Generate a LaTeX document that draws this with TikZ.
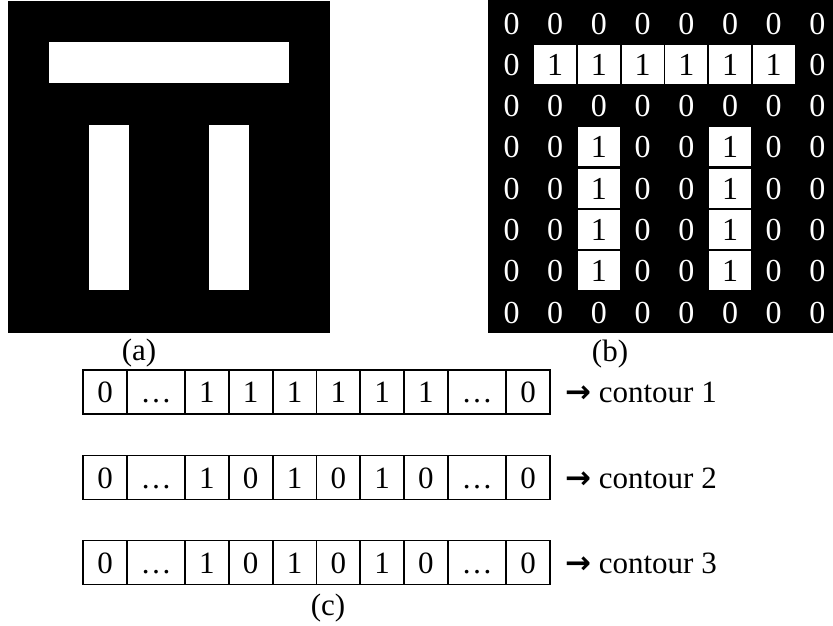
\documentclass[tikz,border=0pt]{standalone}
\usepackage{fontspec}
\setmainfont{Liberation Serif}
\newfontfamily\arrowfont{DejaVu Sans}
\usepackage{tikz}
\usetikzlibrary{positioning}
\newcommand{\gridfont}{\fontsize{32}{38}\selectfont}
\newcommand{\rowfont}{\fontsize{31}{37}\selectfont}
\tikzstyle{pix0} = [rectangle, minimum width=42pt, minimum height=39pt, inner sep=0pt, text height=22pt, text depth=0pt, text=white, font=\gridfont]
\tikzstyle{pix1} = [pix0, fill=white, text=black]
\tikzstyle{bitbox} = [rectangle, draw, line width=1.8pt, minimum height=44pt, inner sep=0pt, text height=21pt, text depth=0pt, font=\rowfont]
\tikzstyle{lbl} = [inner sep=0pt, font=\rowfont]

\begin{document}
\begin{tikzpicture}[x=1pt, y=-1pt]
    \useasboundingbox (0,0) rectangle (833,625);
    % (a) binary image
    \fill (8,1) rectangle (330,333);
    \fill[white] (49,42) rectangle (289,83);
    \fill[white] (89,125) rectangle (129,290);
    \fill[white] (209,125) rectangle (249,290);
    \node[lbl, anchor=base] (lab-a) at (139,360) {(a)};
    % (b) pixel values
    \fill (488,0) rectangle (833,333);
    \foreach \r/\row in {0/{0,0,0,0,0,0,0,0}, 1/{0,1,1,1,1,1,1,0}, 2/{0,0,0,0,0,0,0,0}, 3/{0,0,1,0,0,1,0,0},
                         4/{0,0,1,0,0,1,0,0}, 5/{0,0,1,0,0,1,0,0}, 6/{0,0,1,0,0,1,0,0}, 7/{0,0,0,0,0,0,0,0}} {
        \foreach \v [count=\c from 0] in \row {
            \node[pix\v] (g-\r-\c) at ({511.5 + \c*43.7},{23 + \r*41.3}) {\v};
        }
    }
    \node[lbl, anchor=base] (lab-b) at (610,361) {(b)};
    % (c) contour rows
    \foreach \r/\yy/\bits in {1/392/{1,1,1,1,1,1}, 2/477.5/{1,0,1,0,1,0}, 3/562.5/{1,0,1,0,1,0}} {
        \node[bitbox, minimum width=44pt] (row\r-a) at (105,\yy) {0};
        \node[bitbox, minimum width=58pt] (row\r-b) at (156,\yy) {…};
        \foreach \v [count=\k from 0] in \bits {
            \node[bitbox, minimum width=43.8pt] (row\r-\k) at ({206.9 + \k*43.8},\yy) {\v};
        }
        \node[bitbox, minimum width=58pt] (row\r-c) at (477,\yy) {…};
        \node[bitbox, minimum width=44pt] (row\r-d) at (528,\yy) {0};
        \node[lbl, anchor=west, text height=21pt, text depth=0pt] (cont\r) at ([xshift=14pt]row\r-d.east) {{\arrowfont\bfseries →} contour \r};
    }
    \node[lbl, anchor=base] (lab-c) at (328,615) {(c)};
\end{tikzpicture}
\end{document}
